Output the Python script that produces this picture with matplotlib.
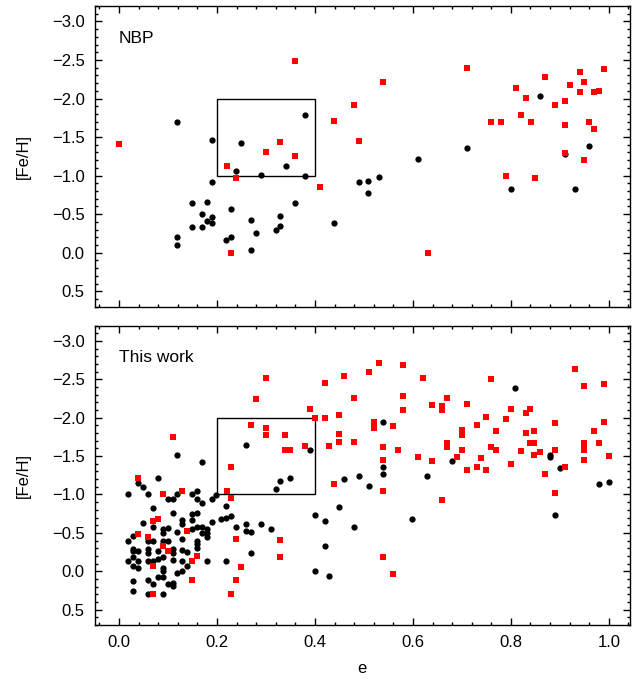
import matplotlib
matplotlib.use("Agg")
import matplotlib.pyplot as plt
from matplotlib.patches import Rectangle
from matplotlib.ticker import MultipleLocator

plt.rcParams['font.family'] = ['Liberation Sans', 'DejaVu Sans']

# NBP sample (upper panel)
nbp_black_e = [0.119, 0.19, 0.38, 0.25, 0.34, 0.239, 0.289, 0.38, 0.19, 0.15, 0.179, 0.36,
               0.229, 0.17, 0.19, 0.18, 0.19, 0.329, 0.269, 0.438, 0.15, 0.17, 0.329, 0.32,
               0.279, 0.119, 0.229, 0.219, 0.119, 0.269, 0.49, 0.509, 0.509, 0.53, 0.61,
               0.71, 0.859, 0.959, 0.80, 0.93, 0.91]
nbp_black_feh = [-1.70, -1.46, -1.79, -1.42, -1.12, -1.06, -1.01, -1.00, -0.92, -0.65, -0.66, -0.64,
                 -0.57, -0.50, -0.46, -0.41, -0.39, -0.47, -0.42, -0.39, -0.34, -0.34, -0.35, -0.30,
                 -0.26, -0.21, -0.20, -0.17, -0.10, -0.04, -0.92, -0.93, -0.78, -0.98, -1.22,
                 -1.36, -2.03, -1.38, -0.83, -0.83, -1.28]
nbp_red_e = [0.00, 0.359, 0.48, 0.439, 0.49, 0.329, 0.30, 0.359, 0.22, 0.238, 0.41, 0.229,
             0.539, 0.71, 0.759, 0.78, 0.81, 0.83, 0.82, 0.841, 0.869, 0.89, 0.91, 0.92,
             0.941, 0.949, 0.941, 0.969, 0.98, 0.99, 0.91, 0.959, 0.969, 0.91, 0.949, 0.79,
             0.849, 0.631]
nbp_red_feh = [-1.41, -2.48, -1.92, -1.71, -1.45, -1.44, -1.31, -1.26, -1.13, -0.97, -0.85, 0.01,
               -2.22, -2.40, -1.70, -1.69, -2.14, -2.01, -1.78, -1.70, -2.28, -1.91, -1.97, -2.17,
               -2.34, -2.22, -2.08, -2.08, -2.10, -2.38, -1.66, -1.70, -1.61, -1.29, -1.20, -1.00,
               -0.97, 0.01]

# this work (lower panel)
tw_black_e = [0.119, 0.169, 0.259, 0.390, 0.080, 0.039, 0.049, 0.019, 0.059, 0.119, 0.149, 0.159,
              0.100, 0.110, 0.159, 0.169, 0.189, 0.199, 0.069, 0.219, 0.320, 0.329, 0.349, 0.110,
              0.159, 0.149, 0.129, 0.149, 0.209, 0.219, 0.229, 0.189, 0.049, 0.129, 0.069, 0.090,
              0.100, 0.150, 0.159, 0.169, 0.179, 0.169, 0.179, 0.090, 0.119, 0.239, 0.259, 0.289,
              0.310, 0.259, 0.269, 0.029, 0.059, 0.069, 0.019, 0.090, 0.100, 0.129, 0.159, 0.159,
              0.179, 0.029, 0.029, 0.039, 0.059, 0.059, 0.080, 0.110, 0.110, 0.129, 0.139, 0.159,
              0.269, 0.019, 0.029, 0.039, 0.059, 0.080, 0.090, 0.110, 0.029, 0.039, 0.069, 0.129,
              0.179, 0.219, 0.139, 0.090, 0.090, 0.119, 0.129, 0.080, 0.090, 0.059, 0.029, 0.069,
              0.100, 0.110, 0.110, 0.029, 0.059, 0.090, 0.400, 0.420, 0.449, 0.459, 0.490, 0.510,
              0.480, 0.420, 0.400, 0.429, 0.539, 0.539, 0.539, 0.629, 0.599, 0.680, 0.809, 0.880,
              0.880, 0.900, 0.890, 0.980, 1.000]
tw_black_feh = [-1.52, -1.42, -1.65, -1.58, -1.22, -1.15, -1.10, -1.00, -1.00, -1.00, -1.00, -1.05,
                -0.94, -0.94, -0.94, -0.89, -0.94, -0.99, -0.83, -0.85, -1.07, -1.18, -1.22, -0.76,
                -0.76, -0.74, -0.67, -0.67, -0.68, -0.69, -0.72, -0.64, -0.63, -0.62, -0.58, -0.55,
                -0.56, -0.55, -0.57, -0.57, -0.55, -0.50, -0.50, -0.50, -0.51, -0.57, -0.61, -0.62,
                -0.55, -0.53, -0.51, -0.46, -0.40, -0.40, -0.39, -0.40, -0.39, -0.42, -0.39, -0.36,
                -0.45, -0.29, -0.26, -0.26, -0.29, -0.24, -0.26, -0.29, -0.24, -0.28, -0.25, -0.30,
                -0.24, -0.14, -0.19, -0.13, -0.13, -0.16, -0.19, -0.15, -0.07, -0.04, -0.14, -0.13,
                -0.13, -0.13, -0.07, -0.04, 0.00, 0.02, 0.00, 0.07, 0.08, 0.11, 0.13, 0.16,
                0.16, 0.15, 0.19, 0.26, 0.30, 0.30, -0.73, -0.66, -0.84, -1.20, -1.24, -1.11,
                -0.58, -0.33, 0.00, 0.06, -1.95, -1.36, -1.27, -1.24, -0.68, -1.44, -2.39, -1.52,
                -1.49, -1.35, -0.73, -1.14, -1.16]
tw_red_e = [0.039, 0.110, 0.090, 0.129, 0.069, 0.080, 0.039, 0.059, 0.139, 0.090, 0.100, 0.069,
            0.159, 0.149, 0.149, 0.069, 0.229, 0.220, 0.229, 0.238, 0.249, 0.238, 0.229, 0.329,
            0.329, 0.300, 0.280, 0.269, 0.300, 0.300, 0.339, 0.339, 0.349, 0.380, 0.390, 0.400,
            0.420, 0.420, 0.429, 0.439, 0.449, 0.449, 0.449, 0.459, 0.480, 0.480, 0.510,
            0.531, 0.580, 0.620, 0.580, 0.580, 0.520, 0.520, 0.559, 0.539, 0.569, 0.539, 0.539,
            0.539, 0.559, 0.610, 0.639, 0.639, 0.659, 0.659, 0.669, 0.659, 0.669, 0.669, 0.689,
            0.700, 0.700, 0.700, 0.710, 0.710, 0.730, 0.730, 0.739, 0.749, 0.749, 0.759, 0.759,
            0.769, 0.769, 0.789, 0.800, 0.800, 0.820, 0.830, 0.830, 0.840, 0.840, 0.848, 0.848,
            0.848, 0.859, 0.869, 0.890, 0.890, 0.890, 0.910, 0.930, 0.949, 0.949, 0.949, 0.949,
            0.949, 0.969, 0.980, 0.990, 0.990, 1.000]
tw_red_feh = [-1.22, -1.75, -1.00, -1.04, -0.66, -0.68, -0.49, -0.45, -0.52, -0.33, -0.26, -0.07,
              -0.20, -0.14, 0.12, 0.30, -1.36, -1.04, -0.96, -0.42, -0.05, 0.12, 0.30, -0.41,
              -0.18, -2.52, -2.24, -1.91, -1.87, -1.78, -1.78, -1.58, -1.58, -1.63, -2.11, -2.00,
              -2.45, -2.00, -1.63, -1.14, -2.04, -1.79, -1.68, -2.54, -2.26, -1.68, -2.59,
              -2.71, -2.68, -2.52, -2.28, -2.10, -1.95, -1.87, -1.89, -1.62, -1.58, -1.45, -1.04,
              -0.18, 0.03, -1.49, -1.44, -2.17, -2.15, -2.10, -2.26, -0.93, -1.67, -1.62, -1.49,
              -1.84, -1.78, -1.58, -2.18, -1.32, -1.91, -1.36, -1.48, -2.01, -1.32, -2.50, -1.62,
              -1.83, -1.58, -1.98, -2.11, -1.40, -1.57, -2.06, -1.80, -2.11, -1.67, -1.83, -1.67,
              -1.52, -1.55, -1.26, -1.93, -1.58, -1.02, -1.36, -2.63, -2.41, -1.67, -1.62, -1.58,
              -1.45, -1.83, -1.67, -2.44, -1.94, -1.50]

panel_labels = ['NBP', 'This work']
box_e = (0.2, 0.4)
box_feh = (-2.0, -1.0)

fig = plt.figure(figsize=(6.42, 6.79), dpi=100)
ax1 = fig.add_axes([0.1472, 0.5483, 0.834, 0.4429])
ax2 = fig.add_axes([0.1472, 0.0795, 0.834, 0.4411])

panels = [(ax1, nbp_black_e, nbp_black_feh, nbp_red_e, nbp_red_feh),
          (ax2, tw_black_e, tw_black_feh, tw_red_e, tw_red_feh)]

for (ax, be, bf, re_, rf), lab in zip(panels, panel_labels):
    ax.plot(be, bf, 'o', color='black', ms=4.5, mew=0, ls='none')
    ax.plot(re_, rf, 's', color='#ff0000', ms=5.0, mew=0, ls='none')
    ax.add_patch(Rectangle((box_e[0], box_feh[0]), box_e[1] - box_e[0], box_feh[1] - box_feh[0],
                           fill=False, ec='black', lw=1.0))
    ax.text(0.0, -2.72, lab, fontsize=12.5, ha='left', va='baseline')
    ax.set_xlim(-0.05, 1.043)
    ax.set_ylim(0.7, -3.2)
    ax.xaxis.set_major_locator(MultipleLocator(0.2))
    ax.xaxis.set_minor_locator(MultipleLocator(0.04))
    ax.yaxis.set_major_locator(MultipleLocator(0.5))
    ax.yaxis.set_minor_locator(MultipleLocator(0.1))
    ax.tick_params(which='both', direction='in', top=True, right=True, width=1.0,
                   labelsize=12, pad=7)
    ax.tick_params(which='major', length=5)
    ax.tick_params(which='minor', length=2.5)
    for s in ax.spines.values():
        s.set_linewidth(1.0)
    ax.set_ylabel('[Fe/H]', fontsize=12, labelpad=15)

ax1.tick_params(labelbottom=False)
ax2.set_xlabel('e', fontsize=12, labelpad=8)

fig.savefig('out.png', dpi=100)
